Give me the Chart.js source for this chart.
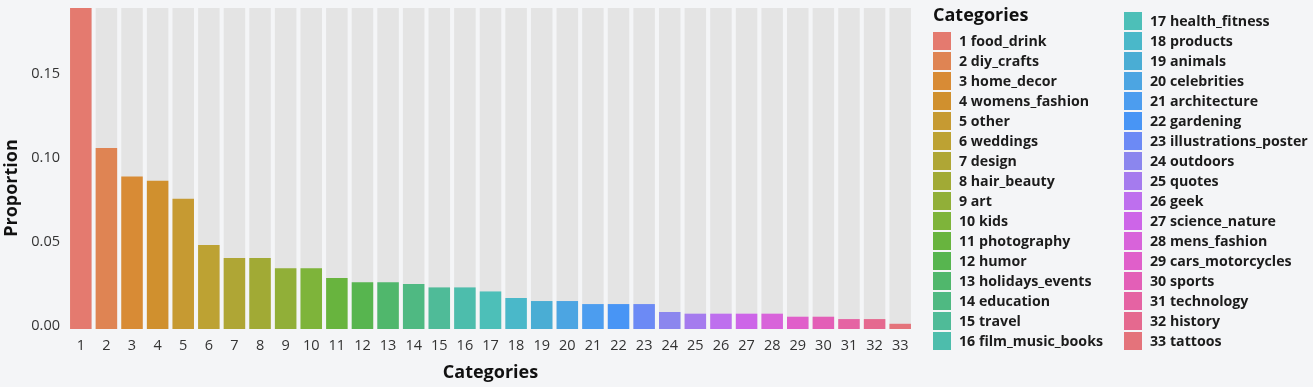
<!DOCTYPE html>
<html><head><meta charset="utf-8">
<script src="https://cdn.jsdelivr.net/npm/chart.js@4.4.1/dist/chart.umd.min.js"></script>
<style>
html,body{margin:0;padding:0;background:#f4f5f7;}
#wrap{position:relative;width:1313px;height:387px;overflow:hidden;}
#c{position:absolute;left:0;top:0;}
#legend{position:absolute;left:0;top:0;width:1313px;height:387px;font-family:'Open Sans',sans-serif;color:#1c1c1c;}
.lt{position:absolute;left:933px;top:2px;font-weight:700;font-size:18px;line-height:24px;color:#111;}
.li{position:absolute;height:18px;line-height:18px;font-size:14.2px;font-weight:700;white-space:nowrap;}
.sw{position:absolute;width:18px;height:18px;left:0;top:0;}
.tx{position:absolute;left:26px;top:0;}
</style></head>
<body>
<div id="wrap"><canvas id="c" width="1313" height="387"></canvas><div id="legend"></div></div>
<script>
const categories = ['1','2','3','4','5','6','7','8','9','10','11','12','13','14','15','16','17','18','19','20','21','22','23','24','25','26','27','28','29','30','31','32','33'];
const categoryNames = ['food_drink','diy_crafts','home_decor','womens_fashion','other','weddings','design','hair_beauty','art','kids','photography','humor','holidays_events','education','travel','film_music_books','health_fitness','products','animals','celebrities','architecture','gardening','illustrations_poster','outdoors','quotes','geek','science_nature','mens_fashion','cars_motorcycles','sports','technology','history','tattoos'];
const proportions = [0.1906,0.1075,0.0906,0.0881,0.0774,0.0499,0.0422,0.0422,0.0360,0.0360,0.0303,0.0277,0.0277,0.0267,0.0247,0.0247,0.0223,0.0184,0.0166,0.0166,0.0148,0.0148,0.0148,0.0101,0.0091,0.0091,0.0091,0.0091,0.0073,0.0073,0.0059,0.0059,0.0031];
const yTickValues = [0, 0.05, 0.10, 0.15];
const yMax = 0.1906;
const legendTitle = 'Categories';
const xTitle = 'Categories';
const yTitle = 'Proportion';
const colors = ['#E47A6F','#DF8453','#D88B35','#D0902E','#C69A32','#BDA233','#AFA635','#A1AA35','#91AF38','#7EB43A','#68B43E','#57B54F','#50B76C','#4FB982','#4FBB98','#4DBDAC','#4DBFB8','#4AB8C9','#4AADD4','#4CA5E2','#4C9DEF','#4895F5','#6C8AF5','#8B86EE','#A57BEE','#BE6FEE','#CD65E8','#D863DA','#E05FCA','#E35FB7','#E563A3','#E5698F','#E4737B'];

const fontFam = "'Open Sans', sans-serif";
const yTitlePlugin = {
  id:'yTitle',
  afterDraw(chart){
    const ctx = chart.ctx;
    ctx.save();
    ctx.translate(12, 188);
    ctx.rotate(-Math.PI/2);
    ctx.font = "bold 18px 'Open Sans', sans-serif";
    ctx.fillStyle = '#111';
    ctx.textAlign='center'; ctx.textBaseline='middle';
    ctx.fillText(yTitle, 0, 0);
    ctx.restore();
  }
};
new Chart(document.getElementById('c'), {
  type:'bar',
  data:{
    labels: categories,
    datasets:[
      {data: proportions, backgroundColor: colors, order:1, grouped:false, barPercentage:0.84, categoryPercentage:1},
      {data: categories.map(()=>yMax), backgroundColor:'#e4e4e4', order:2, grouped:false, barPercentage:0.84, categoryPercentage:1}
    ]
  },
  plugins:[yTitlePlugin],
  options:{
    responsive:false, animation:false, devicePixelRatio:1,
    layout:{padding:{left:0,right:400,top:8,bottom:0}},
    plugins:{legend:{display:false}, tooltip:{enabled:false}},
    scales:{
      x:{
        grid:{display:false, drawTicks:false}, border:{display:false},
        ticks:{color:'#333', font:{family:fontFam,size:14.5}, padding:8, maxRotation:0, autoSkip:false},
        title:{display:true, text:xTitle, color:'#111', font:{family:fontFam,size:18,weight:'bold'}, padding:{top:0,bottom:3}},
        afterFit:s=>{s.height=58; s.paddingLeft=0; s.paddingRight=0;}
      },
      y:{
        min:0, max:yMax,
        grid:{display:false, drawTicks:false}, border:{display:false},
        afterBuildTicks:s=>{s.ticks=yTickValues.map(v=>({value:v}));},
        ticks:{color:'#333', font:{family:fontFam,size:14.5}, padding:8, labelOffset:-3, callback:v=>v.toFixed(2)},
        title:{display:false},
        afterFit:s=>{s.width=68; s.paddingTop=0; s.paddingBottom=0;}
      }
    }
  }
});

// legend (HTML)
const lg = document.getElementById('legend');
const t = document.createElement('div'); t.className='lt'; t.textContent=legendTitle; lg.appendChild(t);
categories.forEach((c,i)=>{
  const col = i<16?0:1, row = i<16?i:i-16;
  const d = document.createElement('div'); d.className='li';
  d.style.left = (col? 1124:933)+'px';
  d.style.top = ((col? 12:32)+row*20)+'px';
  const sw = document.createElement('div'); sw.className='sw'; sw.style.background=colors[i];
  const tx = document.createElement('div'); tx.className='tx'; tx.textContent = c+' '+categoryNames[i];
  d.appendChild(sw); d.appendChild(tx); lg.appendChild(d);
});
</script>
</body></html>
